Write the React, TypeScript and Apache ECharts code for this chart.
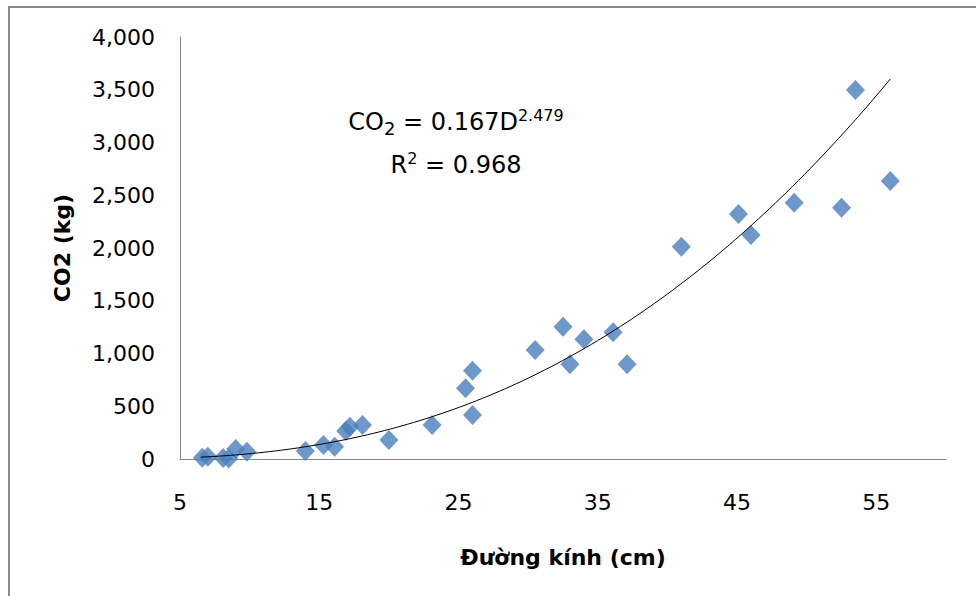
import React, { useEffect, useRef } from "react";
import * as echarts from "echarts";

// Observed data: stem diameter (cm) and CO2 (kg)
const diameters = [6.6, 7.0, 8.1, 8.5, 9.0, 9.8, 14.0, 15.3, 16.1, 16.9, 17.2, 18.1, 20.0, 23.1, 25.5, 26.0, 26.0, 30.5, 32.5, 33.0, 34.0, 36.1, 37.1, 41.0, 45.1, 46.0, 49.1, 52.5, 53.5, 56.0];
const co2Values = [12, 22, 9, 5, 95, 69, 76, 133, 117, 265, 305, 322, 180, 322, 670, 837, 417, 1033, 1254, 898, 1135, 1201, 898, 2012, 2322, 2123, 2429, 2382, 3498, 2635];

// Power trend line shown on the chart: CO2 = a * D^b
const trendA = 0.167;
const trendB = 2.479;
const trendStart = 6.5;
const trendEnd = 56;
const trendR2 = "0.968";

const xTitle = "Đường kính (cm)";
const yTitle = "CO2 (kg)";

const FONT = "DejaVu Sans";

export default function App() {
  const ref = useRef<HTMLDivElement>(null);

  useEffect(() => {
    if (!ref.current) return;
    const chart = echarts.init(ref.current, undefined, { renderer: "svg" });

    const scatterData = diameters.map((d, i) => [d, co2Values[i]]);
    const trendData: number[][] = [];
    const steps = 120;
    for (let i = 0; i <= steps; i++) {
      const d = trendStart + ((trendEnd - trendStart) * i) / steps;
      trendData.push([d, trendA * Math.pow(d, trendB)]);
    }

    const option: any = {
      animation: false,
      backgroundColor: "#ffffff",
      grid: { left: 180, top: 37, right: 30, bottom: 137, containLabel: false },
      xAxis: {
        type: "value",
        min: 5,
        max: 60,
        interval: 10,
        name: xTitle,
        nameLocation: "middle",
        nameGap: 87,
        nameTextStyle: { fontFamily: FONT, fontSize: 22, fontWeight: "bold", color: "#000" },
        axisLine: { show: true, onZero: false, lineStyle: { color: "#868686", width: 1 } },
        axisTick: { show: false },
        splitLine: { show: false },
        axisLabel: {
          margin: 32,
          showMaxLabel: false,
          fontFamily: FONT,
          fontSize: 22,
          color: "#000",
        },
      },
      yAxis: {
        type: "value",
        min: 0,
        max: 4000,
        interval: 500,
        name: yTitle,
        nameLocation: "middle",
        nameRotate: 90,
        nameGap: 107,
        nameTextStyle: { fontFamily: FONT, fontSize: 22, fontWeight: "bold", color: "#000" },
        axisLine: { show: true, lineStyle: { color: "#868686", width: 1 } },
        axisTick: { show: false },
        splitLine: { show: false },
        axisLabel: {
          margin: 25,
          fontFamily: FONT,
          fontSize: 22,
          color: "#000",
          formatter: (v: number) => v.toLocaleString("en-US"),
        },
      },
      series: [
        {
          type: "scatter",
          data: scatterData,
          symbol: "diamond",
          symbolSize: [19, 20],
          itemStyle: { color: "#4A7EBB" },
          z: 2,
        },
        {
          type: "line",
          data: trendData,
          showSymbol: false,
          symbol: "none",
          lineStyle: { color: "#000", width: 1 },
          z: 3,
          silent: true,
        },
      ],
      graphic: [
        {
          type: "rect",
          shape: { x: 9, y: 7, width: 1200, height: 1200 },
          style: { fill: "none", stroke: "#8a8a8a", lineWidth: 2 },
          silent: true,
          z: 100,
        },
        {
          type: "text",
          x: 456,
          y: 122,
          z: 100,
          style: {
            text: "{n|CO}{sub|2}{n| = " + trendA + "D}{sup|" + trendB + "}",
            align: "center",
            verticalAlign: "middle",
            rich: {
              n: { fontFamily: FONT, fontSize: 24, lineHeight: 30, fill: "#000" },
              sub: { fontFamily: FONT, fontSize: 18, lineHeight: 18, verticalAlign: "bottom", fill: "#000" },
              sup: { fontFamily: FONT, fontSize: 16, lineHeight: 25, verticalAlign: "top", fill: "#000" },
            },
          },
        },
        {
          type: "text",
          x: 456,
          y: 165,
          z: 100,
          style: {
            text: "{n|R}{sup|2}{n| = " + trendR2 + "}",
            align: "center",
            verticalAlign: "middle",
            rich: {
              n: { fontFamily: FONT, fontSize: 24, lineHeight: 30, fill: "#000" },
              sup: { fontFamily: FONT, fontSize: 16, lineHeight: 25, verticalAlign: "top", fill: "#000" },
            },
          },
        },
      ],
    };

    chart.setOption(option);
    return () => {
      chart.dispose();
    };
  }, []);

  return (
    <div
      ref={ref}
      style={{ position: "absolute", left: 0, top: 0, width: 976, height: 596, background: "#fff" }}
    />
  );
}
